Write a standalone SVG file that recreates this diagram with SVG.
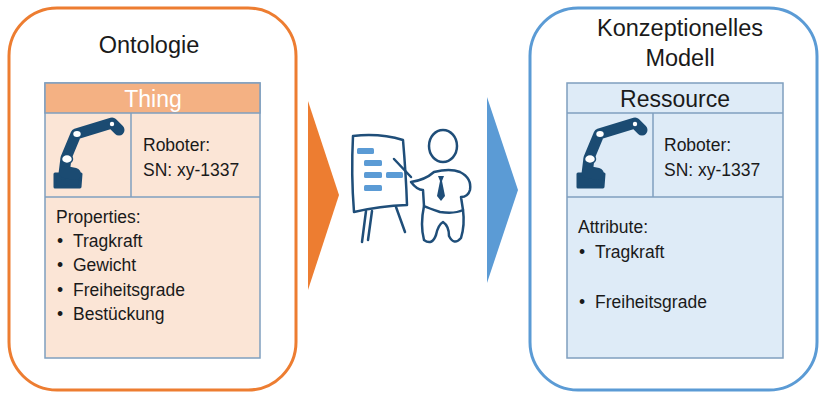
<svg xmlns="http://www.w3.org/2000/svg" width="821" height="398" viewBox="0 0 821 398">
  <style>
    text { font-family: "Liberation Sans", Arial, sans-serif; fill: #1a1a1a; }
    .title { font-size: 23.5px; text-anchor: middle; }
    .head { font-size: 23px; text-anchor: middle; }
    .body { font-size: 17.5px; }
    .cell { stroke: #7f9fbf; stroke-width: 1.5; }
    .ink { fill: none; stroke: #1f4e79; stroke-width: 2.5; stroke-linecap: round; stroke-linejoin: round; }
    .bar { fill: #5b9bd5; }
  </style>
  <defs>
    <!-- robot arm icon, origin at the cell's top-left corner -->
    <g id="robot">
      <path d="M10 64 L36 64 L35 77 L10 77 Z" fill="#1b4b72" stroke="#1b4b72" stroke-width="3" stroke-linejoin="round"/>
      <path d="M19 64 L21 48 L31 24 L67 13 L74 20" fill="none" stroke="#1b4b72" stroke-width="11" stroke-linecap="round" stroke-linejoin="round"/>
      <path d="M67 12 L75 22" fill="none" stroke="#1b4b72" stroke-width="5" stroke-linecap="round"/>
      <path d="M20 62 L30 64" fill="none" stroke="#1b4b72" stroke-width="12" stroke-linecap="round"/>
      <ellipse cx="22" cy="49" rx="5.5" ry="4.5" fill="#ffffff" stroke="#1b4b72" stroke-width="1.5"/>
      <ellipse cx="32" cy="24" rx="4.5" ry="3.8" fill="#ffffff" stroke="#1b4b72" stroke-width="1.5"/>
      <circle cx="67" cy="14" r="2.2" fill="#ffffff"/>
    </g>
  </defs>

  <!-- left panel: ontology -->
  <g id="ontologie">
    <rect x="9" y="8" width="287" height="382" rx="48" ry="48" fill="#ffffff" stroke="#ed7d31" stroke-width="3"/>
    <text class="title" x="149" y="53">Ontologie</text>
    <rect class="cell" x="45" y="83" width="215" height="275" fill="#fbe5d6"/>
    <rect class="cell" x="45" y="83" width="215" height="30" fill="#f4b183"/>
    <line class="cell" x1="131" y1="113" x2="131" y2="197"/>
    <line class="cell" x1="45" y1="197" x2="260" y2="197"/>
    <text class="head" x="153" y="107" style="fill:#ffffff">Thing</text>
    <use href="#robot" x="45" y="110"/>
    <text class="body" x="143" y="151">Roboter:</text>
    <text class="body" x="143" y="176">SN: xy-1337</text>
    <text class="body" x="56" y="223">Properties:</text>
    <text class="body" x="57" y="247">•<tspan x="73">Tragkraft</tspan></text>
    <text class="body" x="57" y="271">•<tspan x="73">Gewicht</tspan></text>
    <text class="body" x="57" y="296">•<tspan x="73">Freiheitsgrade</tspan></text>
    <text class="body" x="57" y="320">•<tspan x="73">Bestückung</tspan></text>
  </g>

  <!-- right panel: conceptual model -->
  <g id="konzept">
    <rect x="530" y="8" width="287" height="382" rx="48" ry="48" fill="#ffffff" stroke="#5b9bd5" stroke-width="3"/>
    <text class="title" x="680" y="36">Konzeptionelles</text>
    <text class="title" x="680" y="66">Modell</text>
    <rect class="cell" x="567" y="83" width="216" height="275" fill="#deebf7"/>
    <line class="cell" x1="567" y1="113" x2="783" y2="113"/>
    <line class="cell" x1="653" y1="113" x2="653" y2="197"/>
    <line class="cell" x1="567" y1="197" x2="783" y2="197"/>
    <text class="head" x="675" y="107">Ressource</text>
    <use href="#robot" x="568" y="110"/>
    <text class="body" x="664" y="151">Roboter:</text>
    <text class="body" x="664" y="176">SN: xy-1337</text>
    <text class="body" x="578" y="233">Attribute:</text>
    <text class="body" x="579" y="258">•<tspan x="595">Tragkraft</tspan></text>
    <text class="body" x="579" y="308">•<tspan x="595">Freiheitsgrade</tspan></text>
  </g>

  <!-- presenter at a flip chart -->
  <g id="praesentation">
    <path class="ink" d="M353 136 Q380 133 403 140 Q406 175 407 205 Q380 206 354 212 Q351 175 353 136 Z"/>
    <rect class="bar" x="357" y="148" width="17" height="6" rx="1.5"/>
    <rect class="bar" x="364" y="160" width="18" height="6" rx="1.5"/>
    <rect class="bar" x="364" y="172" width="18" height="6" rx="1.5"/>
    <rect class="bar" x="386" y="172" width="17" height="6" rx="1.5"/>
    <rect class="bar" x="364" y="185" width="18" height="6" rx="1.5"/>
    <path class="ink" d="M366 211 L362 242 M372 211 L368 240 M396 207 L405 232"/>
    <path class="ink" d="M394 159 L411 177"/>
    <ellipse class="ink" cx="443" cy="146" rx="14" ry="16"/>
    <path class="ink" d="M411 182 Q425 180 434 172 Q450 168 460 172 Q472 178 470 190 Q468 197 461 197 L463 210 Q455 214 440 212 Q428 208 424 206 L423 190 Q417 190 411 182 Z"/>
    <path class="ink" d="M424 206 Q420 225 424 240 Q432 246 436 235 Q438 225 443 222 Q449 226 449 236 Q454 246 461 238 Q465 225 463 210"/>
    <path d="M438 176 L444 176 L442 181 L445 196 L441 201 L437 196 L440 181 Z" fill="#1f4e79"/>
  </g>

  <!-- connectors: chevrons between the panels -->
  <g id="connectors">
    <polygon points="308,101 339,195 308,290" fill="#ed7d31"/>
    <polygon points="487,97 518,190 487,283" fill="#5b9bd5"/>
  </g>
</svg>
